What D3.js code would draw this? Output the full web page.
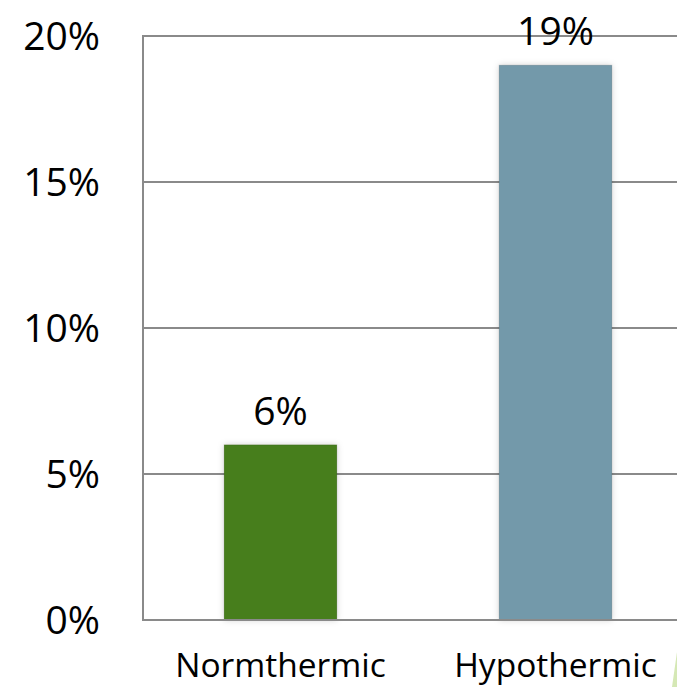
<!DOCTYPE html>
<html>
<head>
<meta charset="utf-8">
<script src="https://cdn.jsdelivr.net/npm/d3@7"></script>
<style>
  html, body { margin: 0; padding: 0; background: #fff; }
  svg { display: block; font-family: "Open Sans", "DejaVu Sans", sans-serif; }
</style>
</head>
<body>
<svg id="chart" width="677" height="687"></svg>
<script>
// Chart data
const categories = ["Normthermic", "Hypothermic"];
const values = [6, 19];
const barColors = ["#467e1f", "#7399aa"];
const yTicks = [0, 5, 10, 15, 20];
const yTickLabels = ["0%", "5%", "10%", "15%", "20%"];

(function draw() {
  const W = 677, H = 687;
  const svg = d3.select("#chart");

  const plotLeft = 143, plotRight = 693, plotTop = 36, plotBottom = 620;

  const x = d3.scaleBand()
    .domain(categories)
    .range([plotLeft, plotRight])
    .paddingInner(0.59)
    .paddingOuter(0.295);

  const y = d3.scaleLinear()
    .domain([0, 20])
    .range([plotBottom, plotTop]);

  // soft drop shadow under the bars
  const defs = svg.append("defs");
  const f = defs.append("filter").attr("id", "shadow")
    .attr("x", "-20%").attr("y", "-10%").attr("width", "140%").attr("height", "120%");
  f.append("feDropShadow").attr("dx", 0).attr("dy", 0).attr("stdDeviation", 3)
    .attr("flood-color", "#000").attr("flood-opacity", 0.18);

  // horizontal gridlines
  svg.append("g")
    .selectAll("line")
    .data(yTicks.filter(d => d > 0))
    .join("line")
    .attr("x1", plotLeft).attr("x2", W)
    .attr("y1", d => y(d)).attr("y2", d => y(d))
    .attr("stroke", "#8a8a8a").attr("stroke-width", 2);

  // bars
  svg.append("g")
    .selectAll("rect")
    .data(values)
    .join("rect")
    .attr("x", (d, i) => x(categories[i]))
    .attr("width", x.bandwidth())
    .attr("y", d => y(d))
    .attr("height", d => y(0) - y(d))
    .attr("fill", (d, i) => barColors[i])
    .attr("stroke", "rgba(0,0,0,0.12)")
    .attr("stroke-width", 1)
    .attr("filter", "url(#shadow)");

  // axis lines
  svg.append("line")
    .attr("x1", plotLeft).attr("x2", plotLeft)
    .attr("y1", y(20) - 1).attr("y2", y(0) + 1)
    .attr("stroke", "#8a8a8a").attr("stroke-width", 2);
  svg.append("line")
    .attr("x1", plotLeft).attr("x2", W)
    .attr("y1", y(0)).attr("y2", y(0))
    .attr("stroke", "#8a8a8a").attr("stroke-width", 2);

  // y tick labels
  svg.append("g")
    .selectAll("text")
    .data(yTicks)
    .join("text")
    .attr("x", 100)
    .attr("y", d => y(d))
    .attr("dy", "0.36em")
    .attr("text-anchor", "end")
    .attr("font-size", 39)
    .attr("fill", "#000")
    .text((d, i) => yTickLabels[i]);

  // category labels
  svg.append("g")
    .selectAll("text")
    .data(categories)
    .join("text")
    .attr("x", d => x(d) + x.bandwidth() / 2)
    .attr("y", 677)
    .attr("text-anchor", "middle")
    .attr("font-size", 33.5)
    .attr("fill", "#000")
    .text(d => d);

  // value labels
  svg.append("g")
    .selectAll("text")
    .data(values)
    .join("text")
    .attr("x", (d, i) => x(categories[i]) + x.bandwidth() / 2)
    .attr("y", d => y(d) - 20)
    .attr("text-anchor", "middle")
    .attr("font-size", 39)
    .attr("fill", "#000")
    .text(d => d + "%");

  // decorative corner accent
  svg.append("polygon")
    .attr("points", `${W - 5},${H} ${W},${H - 35} ${W},${H}`)
    .attr("fill", "#d5e8b5");
})();
</script>
</body>
</html>
